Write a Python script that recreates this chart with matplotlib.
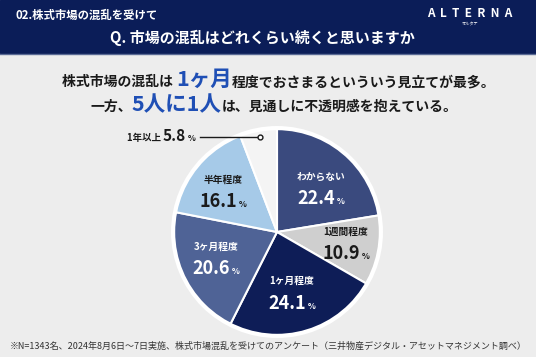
import matplotlib.pyplot as plt
from matplotlib.patches import Rectangle, Circle

plt.rcParams['font.family'] = ['Noto Sans CJK JP', 'DejaVu Sans']

# data
labels = ['わからない', '1週間程度', '1ヶ月程度', '3ヶ月程度', '半年程度', '1年以上']
values = [22.4, 10.9, 24.1, 20.6, 16.1, 5.8]
colors = ['#3A4A7E', '#CFCFCF', '#0E1D57', '#4F6396', '#A6CAE8', '#F4F4F4']
text_colors = ['white', '#1a1a1a', 'white', 'white', '#1a1a1a', '#1a1a1a']

W, H = 536, 357
BG = '#EDEDED'
NAVY = '#0B1D58'
BLUE = '#1F4FB5'

fig = plt.figure(figsize=(W / 100, H / 100), dpi=100, facecolor=BG)

# pie
cx, cy, r = 277, 232, 107
pax = fig.add_axes([(cx - r) / W, (H - cy - r) / H, 2 * r / W, 2 * r / H])
pax.pie(values, colors=colors, startangle=90, counterclock=False,
        wedgeprops=dict(edgecolor='white', linewidth=1.5))
pax.add_patch(Circle((0, 0), 1.0, fill=False, edgecolor='white', linewidth=3))
pax.set_xlim(-1.03, 1.03)
pax.set_ylim(-1.03, 1.03)
pax.set_aspect('equal')
pax.axis('off')

# overlay in pixel coords
ax = fig.add_axes([0, 0, 1, 1], zorder=5)
ax.set_xlim(0, W)
ax.set_ylim(H, 0)
ax.axis('off')
ax.patch.set_alpha(0)

ax.add_patch(Rectangle((0, 0), W, 53, color=NAVY, zorder=1))
ax.plot([0, W], [53.5, 53.5], color='#5A6A95', lw=1, zorder=2)

renderer = fig.canvas.get_renderer()


def runs(x, y, parts, ha='left'):
    # parts: (text, size, color); baseline-aligned pieces
    objs = []
    total = 0
    for s, size, col in parts:
        t = ax.text(0, y, s, fontsize=size, color=col, fontweight='bold',
                    va='baseline', ha='left', zorder=6)
        w = t.get_window_extent(renderer).width
        objs.append((t, w))
        total += w
    if ha == 'center':
        x = x - total / 2
    elif ha == 'right':
        x = x - total
    for t, w in objs:
        t.set_x(x)
        x += w


ax.text(16, 19, '02.株式市場の混乱を受けて', fontsize=8.2, color='white',
        fontweight='bold', va='baseline', zorder=6)
ax.text(470, 17, 'A  L  T  E  R  N  A', fontsize=8.5, color='white',
        fontweight='bold', va='baseline', ha='center', zorder=6)
ax.text(470, 26, 'オルタナ', fontsize=3, color='white', va='baseline',
        ha='center', zorder=6)
ax.text(262, 43, 'Q. 市場の混乱はどれくらい続くと思いますか', fontsize=10.8,
        color='white', fontweight='bold', va='baseline', ha='center', zorder=6)

runs(279, 86, [('株式市場の混乱は ', 10, '#1a1a1a'), ('1ヶ月', 15.5, BLUE),
               ('程度でおさまるといういう見立てが最多。', 10, '#1a1a1a')], ha='center')
runs(274, 111, [('一方、', 10, '#1a1a1a'), ('5人に1人', 15.5, BLUE),
                ('は、見通しに不透明感を抱えている。', 10, '#1a1a1a')], ha='center')

# slice labels (name, value) positions in pixels
name_pos = [(321, 180), (346, 235), (292, 284), (216, 250), (223, 183)]
val_pos = [(321, 204), (346, 259), (292, 309), (216, 274), (223, 207)]
for i in range(5):
    ax.text(name_pos[i][0], name_pos[i][1], labels[i], fontsize=7,
            color=text_colors[i], fontweight='bold', ha='center',
            va='baseline', zorder=6)
    runs(val_pos[i][0], val_pos[i][1],
         [(f'{values[i]:.1f}', 13, text_colors[i]), (' %', 6, text_colors[i])],
         ha='center')

# 1年以上 callout
runs(196, 141, [('1年以上 ', 6.8, '#1a1a1a'), (f'{values[5]:.1f}', 11, '#1a1a1a'),
                (' %', 6, '#1a1a1a')], ha='right')
ax.plot([200, 260], [137, 137], color='#1a1a1a', lw=1, zorder=6)
ax.plot([260], [137], marker='o', ms=3.5, mfc='white', mec='#1a1a1a', mew=1,
        zorder=7)

ax.text(268, 349, '※N=1343名、2024年8月6日〜7日実施、株式市場混乱を受けてのアンケート（三井物産デジタル・アセットマネジメント調べ）',
        fontsize=6.5, color='#333333', ha='center', va='baseline', zorder=6)

fig.savefig('out.png', dpi=100, facecolor=BG)
